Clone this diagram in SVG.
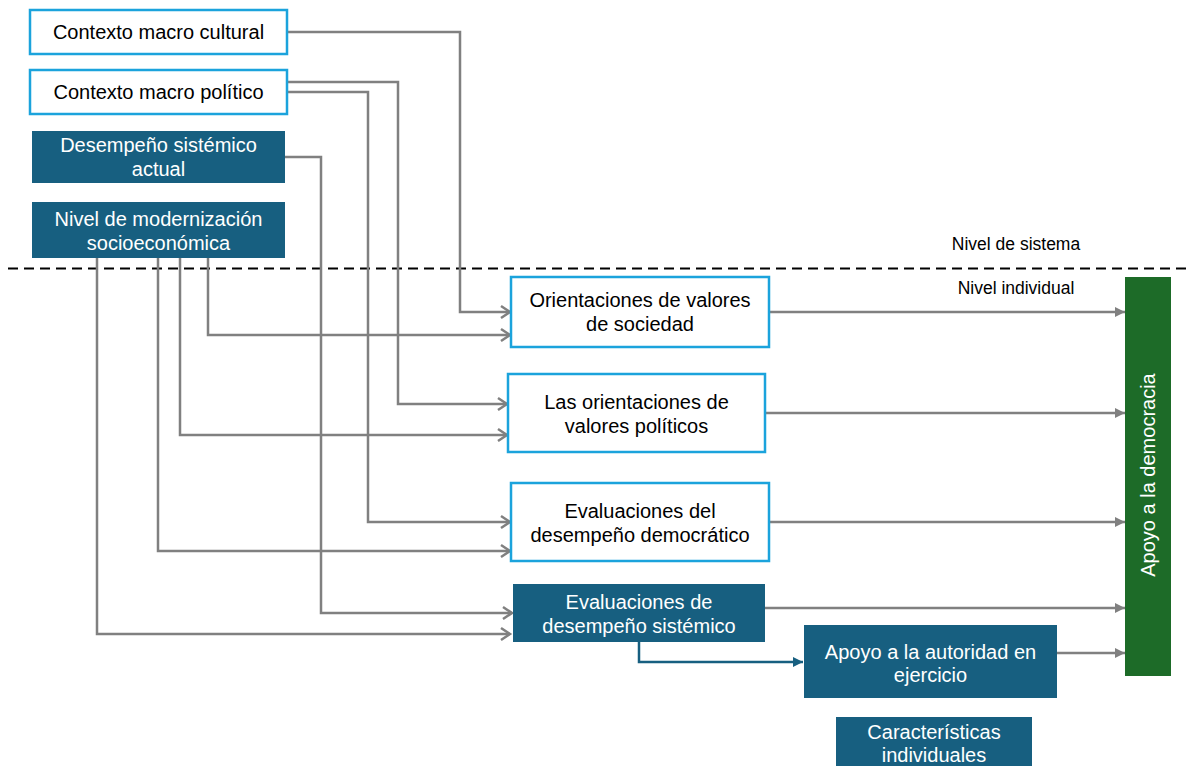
<svg xmlns="http://www.w3.org/2000/svg" width="1191" height="766" viewBox="0 0 1191 766">
<style>
.t{font-family:"Liberation Sans",Arial,sans-serif;font-size:20px;text-anchor:middle;}
.dk{fill:#000;}
.wh{fill:#fff;}
.ob{fill:#fff;stroke:#1ba3dc;stroke-width:2.5;}
.fb{fill:#175f80;}
.c{fill:none;stroke:#808080;stroke-width:2.5;}
.cb{fill:none;stroke:#175f80;stroke-width:2.5;}
.lbl{font-family:"Liberation Sans",Arial,sans-serif;font-size:17.5px;fill:#000;text-anchor:middle;}
</style>
<defs>
<marker id="open" markerUnits="userSpaceOnUse" markerWidth="16" markerHeight="16" refX="12" refY="8" orient="auto">
<path d="M3,2 L12,8 L3,14" fill="none" stroke="#808080" stroke-width="2.5"/>
</marker>
<marker id="tri" markerUnits="userSpaceOnUse" markerWidth="12" markerHeight="12" refX="10" refY="6" orient="auto">
<path d="M0,1 L10,6 L0,11 Z" fill="#808080"/>
</marker>
<marker id="trib" markerUnits="userSpaceOnUse" markerWidth="12" markerHeight="12" refX="10" refY="6" orient="auto">
<path d="M0,1 L10,6 L0,11 Z" fill="#175f80"/>
</marker>
</defs>
<rect width="1191" height="766" fill="#fff"/>

<line x1="8" y1="268.5" x2="1191" y2="268.5" stroke="#000" stroke-width="2" stroke-dasharray="10,6"/>
<text class="lbl" x="1016" y="250">Nivel de sistema</text>
<text class="lbl" x="1016" y="294">Nivel individual</text>

<g id="connectors">
<path class="c" d="M287,32 H460 V312 H510" marker-end="url(#open)"/>
<path class="c" d="M287,82 H398 V404 H507" marker-end="url(#open)"/>
<path class="c" d="M287,92 H368 V522 H510" marker-end="url(#open)"/>
<path class="c" d="M285,157 H321 V613 H512" marker-end="url(#open)"/>
<path class="c" d="M208,258 V335 H510" marker-end="url(#open)"/>
<path class="c" d="M180,258 V435 H507" marker-end="url(#open)"/>
<path class="c" d="M158,258 V551 H510" marker-end="url(#open)"/>
<path class="c" d="M97,258 V634 H510" marker-end="url(#open)"/>
<path class="c" d="M769,312 H1125" marker-end="url(#tri)"/>
<path class="c" d="M765,413 H1125" marker-end="url(#tri)"/>
<path class="c" d="M769,522 H1125" marker-end="url(#tri)"/>
<path class="c" d="M765,608 H1125" marker-end="url(#tri)"/>
<path class="c" d="M1057,653 H1125" marker-end="url(#tri)"/>
<path class="cb" d="M639,642 V662 H803" marker-end="url(#trib)"/>
</g>

<g id="n-cultural">
<rect class="ob" x="30" y="10" width="257" height="44"/>
<text class="t dk" x="158.5" y="39">Contexto macro cultural</text>
</g>
<g id="n-politico">
<rect class="ob" x="30" y="70" width="257" height="44"/>
<text class="t dk" x="158.5" y="99">Contexto macro político</text>
</g>
<g id="n-desempeno">
<rect class="fb" x="32" y="131" width="253" height="52"/>
<text class="t wh" x="158.5" y="152">Desempeño sistémico</text>
<text class="t wh" x="158.5" y="176">actual</text>
</g>
<g id="n-nivel">
<rect class="fb" x="32" y="202" width="253" height="56"/>
<text class="t wh" x="158.5" y="226">Nivel de modernización</text>
<text class="t wh" x="158.5" y="250">socioeconómica</text>
</g>

<g id="n-orient-soc">
<rect class="ob" x="511" y="277" width="258" height="70"/>
<text class="t dk" x="640" y="307">Orientaciones de valores</text>
<text class="t dk" x="640" y="331">de sociedad</text>
</g>
<g id="n-orient-pol">
<rect class="ob" x="508" y="374" width="257" height="78"/>
<text class="t dk" x="636.5" y="409">Las orientaciones de</text>
<text class="t dk" x="636.5" y="433">valores políticos</text>
</g>
<g id="n-eval-dem">
<rect class="ob" x="511" y="483" width="258" height="78"/>
<text class="t dk" x="640" y="518">Evaluaciones del</text>
<text class="t dk" x="640" y="542">desempeño democrático</text>
</g>
<g id="n-eval-sis">
<rect class="fb" x="513" y="584" width="252" height="58"/>
<text class="t wh" x="639" y="609">Evaluaciones de</text>
<text class="t wh" x="639" y="633">desempeño sistémico</text>
</g>
<g id="n-autoridad">
<rect class="fb" x="804" y="625" width="253" height="73"/>
<text class="t wh" x="930.5" y="659">Apoyo a la autoridad en</text>
<text class="t wh" x="930.5" y="682">ejercicio</text>
</g>
<g id="n-caract">
<rect class="fb" x="836" y="717" width="196" height="55"/>
<text class="t wh" x="934" y="739">Características</text>
<text class="t wh" x="934" y="762">individuales</text>
</g>
<g id="n-apoyo">
<rect x="1125" y="277" width="46" height="399" fill="#1d6b28"/>
<text class="t wh" transform="translate(1155,475) rotate(-90)" x="0" y="0">Apoyo a la democracia</text>
</g>
</svg>
